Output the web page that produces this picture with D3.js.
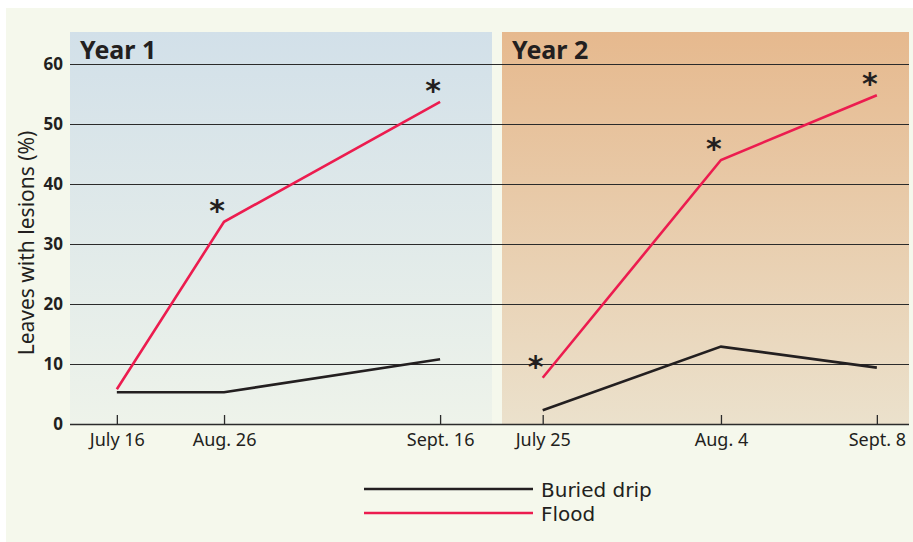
<!DOCTYPE html>
<html>
<head>
<meta charset="utf-8">
<script src="https://cdn.jsdelivr.net/npm/d3@7"></script>
<style>
  body { margin: 0; background: #fff; }
  svg { display: block; }
  text { fill: #231f20; }
</style>
</head>
<body>
<svg id="chart" width="913" height="542"></svg>
<script>
// data
const years = ["Year 1", "Year 2"];
const dates1 = ["July 16", "Aug. 26", "Sept. 16"];
const dates2 = ["July 25", "Aug. 4", "Sept. 8"];
const drip1 = [5.3, 5.3, 10.8];
const flood1 = [5.8, 33.7, 53.7];
const drip2 = [2.3, 12.9, 9.4];
const flood2 = [7.7, 44, 54.8];
const signif1 = [false, true, true];
const signif2 = [true, true, true];
const yTicks = [0, 10, 20, 30, 40, 50, 60];
const seriesNames = ["Buried drip", "Flood"];

const colors = {drip: "#231f20", flood: "#ec1c4f"};
const font = "'Noto Sans', 'Open Sans', sans-serif";

const svg = d3.select("#chart");

// outer light panel
svg.append("rect").attr("x", 6).attr("y", 8).attr("width", 907).attr("height", 534).attr("fill", "#f5f8ec");

const plotTop = 32, plotBottom = 424;
const yScale = d3.scaleLinear().domain([0, 60]).range([plotBottom, 64]);

// panels: left/right edge of each year
const panels = [
  {x0: 70, x1: 492, dates: dates1, drip: drip1, flood: flood1, signif: signif1, frac: [0.111, 0.365, 0.877], c0: "#d2e0e9", c1: "#eef3ea"},
  {x0: 502, x1: 909, dates: dates2, drip: drip2, flood: flood2, signif: signif2, frac: [0.100, 0.538, 0.921], c0: "#e6b98e", c1: "#ebe1cc"}
];

const defs = svg.append("defs");
panels.forEach((p, i) => {
  const g = defs.append("linearGradient").attr("id", "grad" + i)
    .attr("x1", 0).attr("y1", 0).attr("x2", 0).attr("y2", 1);
  g.append("stop").attr("offset", "0%").attr("stop-color", p.c0);
  g.append("stop").attr("offset", "100%").attr("stop-color", p.c1);
  svg.append("rect").attr("x", p.x0).attr("y", plotTop).attr("width", p.x1 - p.x0).attr("height", plotBottom - plotTop)
    .attr("fill", `url(#grad${i})`);
  p.x = d3.scaleOrdinal().domain(p.dates).range(p.frac.map(f => p.x0 + f * (p.x1 - p.x0)));
});

// gridlines
const yAxis = d3.axisLeft(yScale).tickValues(yTicks).tickSize(-(909 - 70)).tickPadding(7);
const gy = svg.append("g").attr("transform", "translate(70,0)").call(yAxis)
  .attr("font-family", font).attr("font-size", 17).attr("font-weight", "bold");
gy.select(".domain").remove();
gy.selectAll(".tick line").attr("stroke", "#2b2b2b").attr("stroke-width", d => d === 0 ? 1.6 : 1.2);
gy.selectAll(".tick text").attr("fill", "#231f20");

// y axis title
svg.append("text")
  .attr("transform", `translate(34,${(64 + plotBottom) / 2 - 1}) rotate(-90)`)
  .attr("text-anchor", "middle")
  .attr("font-family", font)
  .attr("font-size", 21)
  .text("Leaves with lesions (%)");

// year panels content
panels.forEach((p, i) => {
  svg.append("text").attr("x", p.x0 + 10).attr("y", 59)
    .attr("font-family", font).attr("font-size", 25).attr("font-weight", "bold").text(years[i]);

  const xAxis = d3.axisBottom(p.x).tickSize(0).tickPadding(9);
  const gx = svg.append("g").attr("transform", `translate(0,${plotBottom})`).call(xAxis)
    .attr("font-family", font).attr("font-size", 18);
  gx.select(".domain").remove();
  gx.selectAll(".tick text").attr("fill", "#231f20");
  gx.selectAll(".tick").append("line").attr("y1", 0).attr("y2", -9).attr("stroke", "#2b2b2b").attr("stroke-width", 1.3);

  const line = d3.line().x((d, j) => p.x(p.dates[j])).y(d => yScale(d));
  svg.append("path").attr("d", line(p.drip)).attr("fill", "none")
    .attr("stroke", colors.drip).attr("stroke-width", 2.6);
  svg.append("path").attr("d", line(p.flood)).attr("fill", "none")
    .attr("stroke", colors.flood).attr("stroke-width", 2.6);

  // significance asterisks above the flood points
  const stars = p.dates.map((d, j) => ({date: d, v: p.flood[j], s: p.signif[j]})).filter(d => d.s);
  svg.selectAll(null).data(stars).enter().append("text")
    .attr("x", d => p.x(d.date) - 7).attr("y", d => yScale(d.v) - 1)
    .attr("text-anchor", "middle").attr("font-size", 30).attr("font-weight", "bold")
    .attr("font-family", "'DejaVu Sans', sans-serif").text("*");
});

// legend
const legend = svg.append("g");
seriesNames.forEach((name, i) => {
  const y = 489 + i * 24;
  legend.append("line").attr("x1", 364).attr("x2", 533).attr("y1", y).attr("y2", y)
    .attr("stroke", i === 0 ? colors.drip : colors.flood).attr("stroke-width", 2.6);
  legend.append("text").attr("x", 541).attr("y", y + 7.5)
    .attr("font-family", "'DejaVu Sans', sans-serif").attr("font-size", 20).text(name);
});
</script>
</body>
</html>
